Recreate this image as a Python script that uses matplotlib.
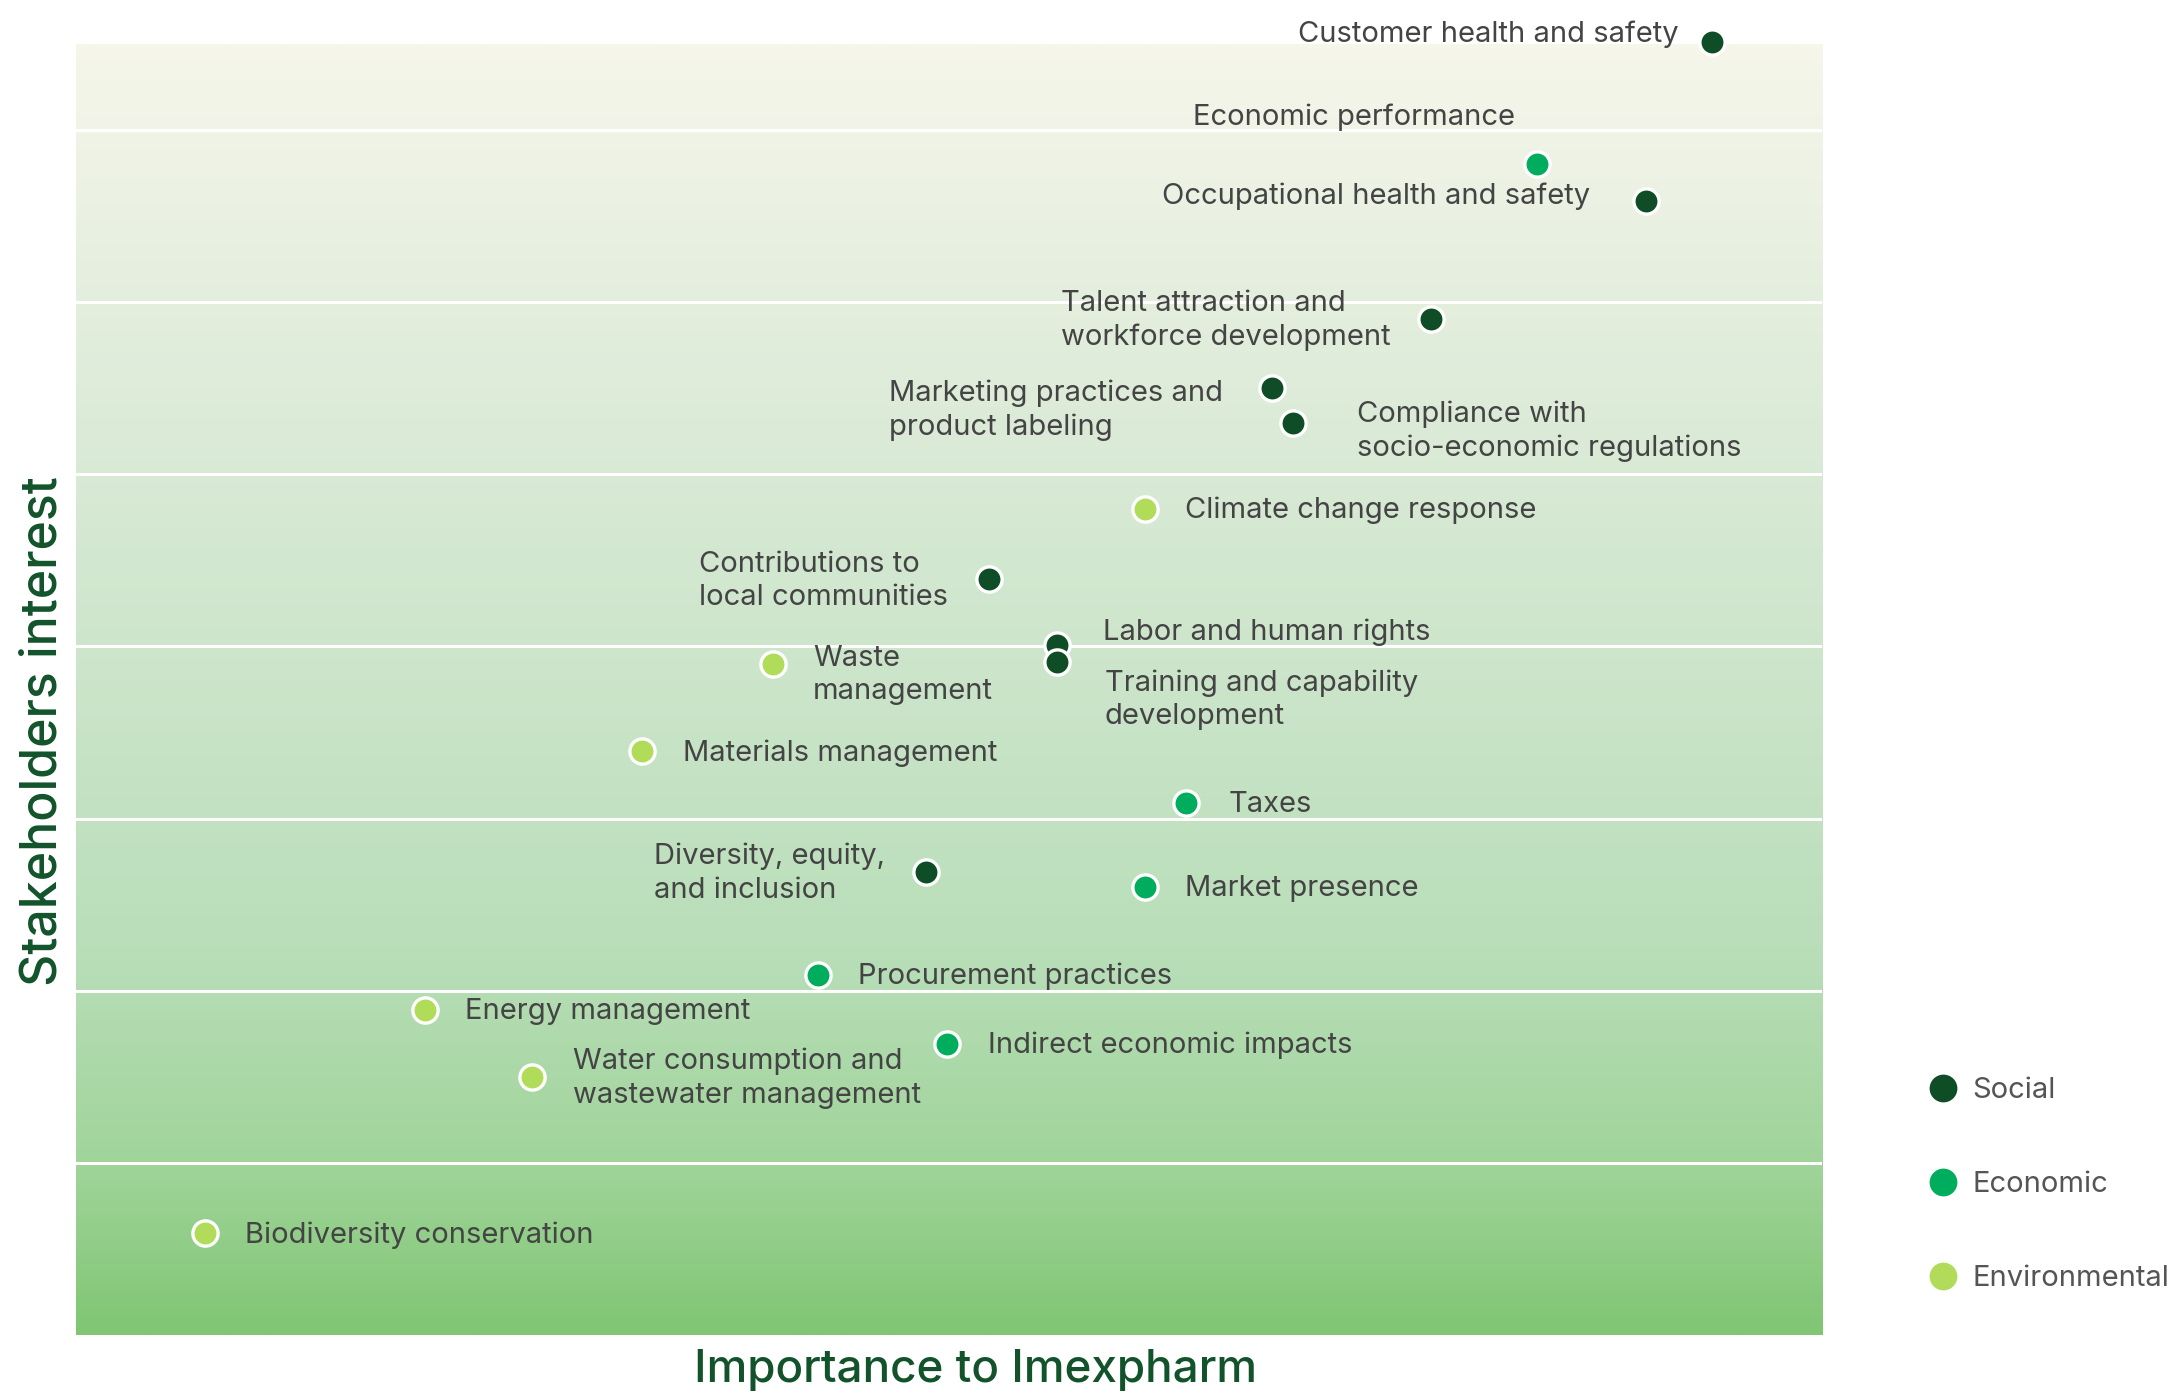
import matplotlib
matplotlib.use('agg')
import matplotlib.pyplot as plt
import numpy as np
from matplotlib.colors import LinearSegmentedColormap
from matplotlib.lines import Line2D

plt.rcParams['font.family'] = ['Inter', 'DejaVu Sans']

# materiality topics: importance to Imexpharm (x), stakeholders interest (y)
topics = [
    'Customer health and safety', 'Economic performance', 'Occupational health and safety',
    'Talent attraction and\nworkforce development', 'Marketing practices and\nproduct labeling',
    'Compliance with\nsocio-economic regulations', 'Climate change response',
    'Contributions to\nlocal communities', 'Labor and human rights',
    'Training and capability\ndevelopment', 'Waste\nmanagement', 'Materials management',
    'Taxes', 'Diversity, equity,\nand inclusion', 'Market presence', 'Procurement practices',
    'Energy management', 'Indirect economic impacts',
    'Water consumption and\nwastewater management', 'Biodiversity conservation',
]
importance = [9.37, 8.37, 8.99, 7.76, 6.85, 6.97, 6.12, 5.23, 5.62, 5.62,
              3.99, 3.24, 6.36, 4.87, 6.12, 4.25, 2.00, 4.99, 2.61, 0.74]
interest = [7.51, 6.80, 6.59, 5.90, 5.50, 5.30, 4.80, 4.39, 4.01, 3.91,
            3.90, 3.39, 3.09, 2.69, 2.60, 2.09, 1.89, 1.69, 1.50, 0.59]
group = ['Social', 'Economic', 'Social', 'Social', 'Social', 'Social', 'Environmental',
         'Social', 'Social', 'Social', 'Environmental', 'Environmental', 'Economic',
         'Social', 'Economic', 'Economic', 'Environmental', 'Economic', 'Environmental',
         'Environmental']

groups = ['Social', 'Economic', 'Environmental']
colors = {'Social': '#0f4d26', 'Economic': '#00ad5c', 'Environmental': '#b1dc5a'}

# label placement: offset in points and horizontal alignment
offsets = [(-24, 6, 'right'), (-16, 34, 'right'), (-40, 3, 'right'), (-29, -1, 'right'),
           (-35, -16, 'right'), (46, -6, 'left'), (29, -1, 'left'), (-30, -1, 'right'),
           (33, 9, 'left'), (34, -27, 'left'), (29, -8, 'left'), (30, -1, 'left'),
           (30, -1, 'left'), (-30, -1, 'right'), (29, -1, 'left'), (29, -1, 'left'),
           (29, -1, 'left'), (29, -1, 'left'), (30, -1, 'left'), (29, -1, 'left')]

fig = plt.figure(figsize=(21.69, 13.93), dpi=100)
ax = fig.add_axes([0.03504, 0.04164, 0.8050, 0.92677])
ax.set_xlim(0, 10)
ax.set_ylim(0, 7.5)

bg = LinearSegmentedColormap.from_list('bg', [
    (0.0, '#80c673'), (0.13, '#a0d49a'), (0.29, '#b8deb8'),
    (0.48, '#c9e4c8'), (0.71, '#dcebd8'), (1.0, '#f6f6eb')])
grad = np.linspace(0, 1, 512).reshape(-1, 1)
ax.imshow(grad, cmap=bg, origin='lower', aspect='auto', extent=(0, 10, 0, 7.5), zorder=0)

for yv in range(1, 8):
    ax.axhline(yv, color='white', lw=2.2, zorder=1)

for g in groups:
    xs = [x for x, gg in zip(importance, group) if gg == g]
    ys = [y for y, gg in zip(interest, group) if gg == g]
    ax.scatter(xs, ys, s=330, color=colors[g], edgecolor='white', linewidth=2.4,
               zorder=3, clip_on=False)

for name, x, y, (dx, dy, ha) in zip(topics, importance, interest, offsets):
    ax.annotate(name, (x, y), xytext=(dx, dy), textcoords='offset points',
                ha=ha, va='center', multialignment='left', fontsize=21,
                color='#444444', linespacing=1.3, zorder=4, annotation_clip=False)

for s in ax.spines.values():
    s.set_visible(False)
ax.set_xticks([])
ax.set_yticks([])

handles = [Line2D([], [], marker='o', ls='', markersize=20, color=colors[g],
                  markeredgewidth=0) for g in groups]
leg = fig.legend(handles, groups, loc='upper left', bbox_to_anchor=(0.883, 0.235),
                 frameon=False, fontsize=21, labelspacing=2.3, handletextpad=0.45,
                 handlelength=1.1, borderaxespad=0)
for t in leg.get_texts():
    t.set_color('#555555')

fig.text(0.0198, 0.475, 'Stakeholders interest', rotation=90, ha='center', va='center',
         fontsize=36, fontweight='medium', color='#13532b')
fig.text(0.4496, 0.0165, 'Importance to Imexpharm', ha='center', va='center',
         fontsize=33, fontweight='medium', color='#13532b')

fig.savefig('out.png', dpi=100)
